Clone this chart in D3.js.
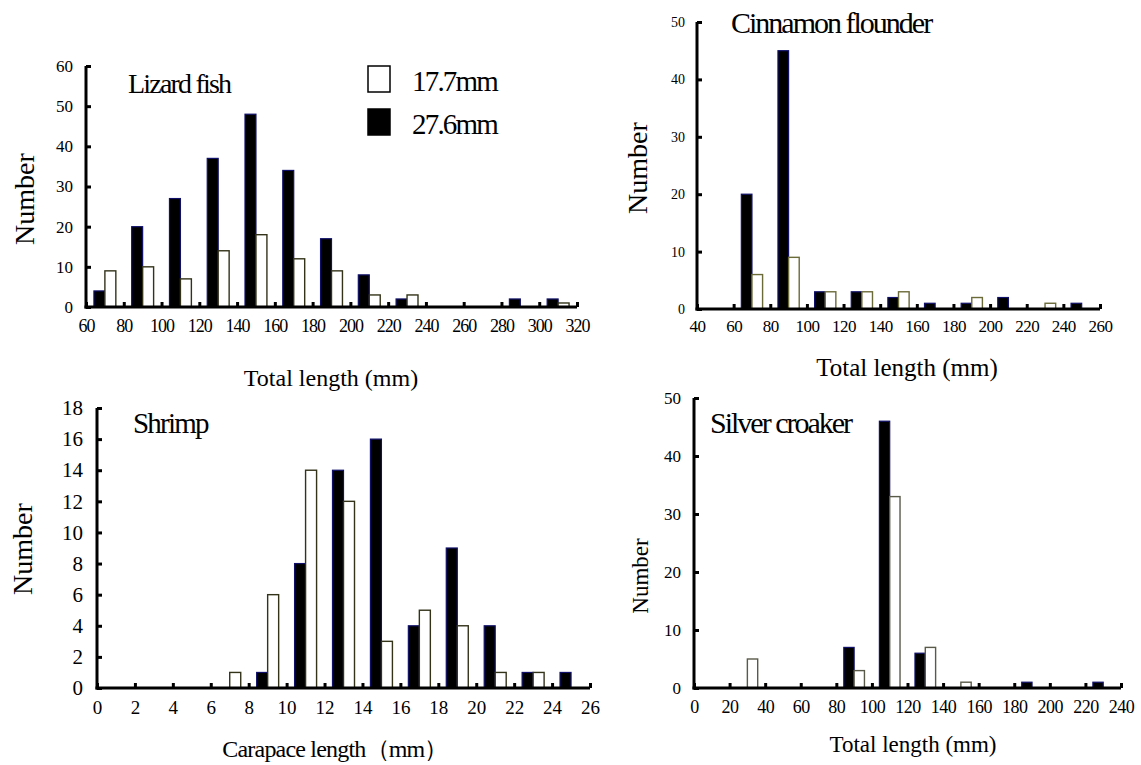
<!DOCTYPE html>
<html>
<head>
<meta charset="utf-8">
<script src="https://cdn.jsdelivr.net/npm/d3@7"></script>
<style>
  body { margin: 0; background: #fff; }
  svg { display: block; }
  text { font-family: "Liberation Serif", "DejaVu Serif", serif; fill: #000; }
  .axis path, .axis line { stroke: #000; stroke-width: 3; }
</style>
</head>
<body>
<div id="chart"></div>
<script>
// series: "17.7mm" = white bars, "27.6mm" = black bars
const seriesNames = ["17.7mm", "27.6mm"];

const lizardBins = [60, 80, 100, 120, 140, 160, 180, 200, 220, 240, 260, 280, 300];
const lizardSmall = [9, 10, 7, 14, 18, 12, 9, 3, 3, 0, 0, 0, 1];
const lizardLarge = [4, 20, 27, 37, 48, 34, 17, 8, 2, 0, 0, 2, 2];

const flounderBins = [40, 60, 80, 100, 120, 140, 160, 180, 200, 220, 240];
const flounderSmall = [0, 6, 9, 3, 3, 3, 0, 2, 0, 1, 0];
const flounderLarge = [0, 20, 45, 3, 3, 2, 1, 1, 2, 0, 1];

const shrimpBins = [0, 2, 4, 6, 8, 10, 12, 14, 16, 18, 20, 22, 24];
const shrimpSmall = [0, 0, 0, 1, 6, 14, 12, 3, 5, 4, 1, 1, 0];
const shrimpLarge = [0, 0, 0, 0, 1, 8, 14, 16, 4, 9, 4, 1, 1];

const croakerBins = [0, 20, 40, 60, 80, 100, 120, 140, 160, 180, 200, 220];
const croakerSmall = [0, 5, 0, 0, 3, 33, 7, 1, 0, 0, 0, 0];
const croakerLarge = [0, 0, 0, 0, 7, 46, 6, 0, 0, 1, 0, 1];

const width = 1141;
const height = 765;
const serif = "Liberation Serif, DejaVu Serif, serif";

const svg = d3.select("#chart").append("svg")
  .attr("width", width)
  .attr("height", height);

function drawPanel(cfg) {
  const binW = cfg.bins[1] - cfg.bins[0];
  const xMax = cfg.bins[cfg.bins.length - 1] + binW;
  const x = d3.scaleLinear().domain([cfg.bins[0], xMax]).range([cfg.left, cfg.right]);
  const y = d3.scaleLinear().domain([0, cfg.yMax]).range([cfg.bottom, cfg.top]);
  const g = svg.append("g");

  const bw = (x(cfg.bins[0] + binW) - x(cfg.bins[0])) * 0.29;
  const rows = cfg.bins.map((b, i) => ({ b, small: cfg.small[i], large: cfg.large[i] }));

  g.selectAll("rect.large").data(rows.filter(d => d.large > 0)).join("rect")
    .attr("class", "large")
    .attr("x", d => x(d.b + binW / 2) - bw)
    .attr("y", d => y(d.large))
    .attr("width", bw)
    .attr("height", d => y(0) - y(d.large))
    .attr("fill", "#000")
    .attr("stroke", "#10106a")
    .attr("stroke-width", 1.2);

  g.selectAll("rect.small").data(rows.filter(d => d.small > 0)).join("rect")
    .attr("class", "small")
    .attr("x", d => x(d.b + binW / 2))
    .attr("y", d => y(d.small))
    .attr("width", bw)
    .attr("height", d => y(0) - y(d.small))
    .attr("fill", "#fff")
    .attr("stroke", cfg.whiteStroke)
    .attr("stroke-width", 1.4);

  const xTicks = d3.range(cfg.bins[0], xMax + binW / 2, binW);
  const xAxis = g.append("g")
    .attr("class", "axis")
    .attr("transform", `translate(0,${cfg.bottom})`)
    .call(d3.axisBottom(x).tickValues(xTicks).tickFormat(d3.format("d"))
      .tickSizeInner(-5).tickSizeOuter(0).tickPadding(cfg.xPad));
  xAxis.attr("font-family", serif).attr("font-size", cfg.xFont);
  xAxis.selectAll("text").attr("letter-spacing", cfg.xSpacing || 0);

  const yTicks = d3.range(0, cfg.yMax + cfg.yStep / 2, cfg.yStep);
  const yAxis = g.append("g")
    .attr("class", "axis")
    .attr("transform", `translate(${cfg.left},0)`)
    .call(d3.axisLeft(y).tickValues(yTicks).tickFormat(d3.format("d"))
      .tickSizeInner(-5).tickSizeOuter(0).tickPadding(cfg.yPad));
  yAxis.attr("font-family", serif).attr("font-size", cfg.yFont);
  // axis lines meet at the corner
  yAxis.select(".domain").attr("d", `M0,${cfg.top}V${cfg.bottom + 1.5}`);
  xAxis.select(".domain").attr("d", `M${cfg.left - 1.5},0H${cfg.right}`);

  g.append("text")
    .attr("x", cfg.titleX)
    .attr("y", cfg.titleY)
    .attr("font-size", cfg.titleFont)
    .attr("letter-spacing", cfg.titleSpacing)
    .text(cfg.title);

  g.append("text")
    .attr("transform", `translate(${cfg.yLabelX},${cfg.yLabelY}) rotate(-90)`)
    .attr("text-anchor", "middle")
    .attr("font-size", cfg.yLabelFont)
    .text("Number");

  g.append("text")
    .attr("x", cfg.xLabelX)
    .attr("y", cfg.xLabelY)
    .attr("text-anchor", "middle")
    .attr("font-size", cfg.xLabelFont)
    .attr("letter-spacing", cfg.xLabelSpacing || 0)
    .text(cfg.xLabel);
}

drawPanel({
  bins: lizardBins, small: lizardSmall, large: lizardLarge,
  left: 86, right: 577, top: 66, bottom: 307, yMax: 60, yStep: 10,
  xFont: 18, xSpacing: -1, yFont: 17, xPad: 12, yPad: 13, whiteStroke: "#33331a",
  title: "Lizard fish", titleX: 128, titleY: 93, titleFont: 28, titleSpacing: -1.8,
  yLabelX: 34, yLabelY: 199, yLabelFont: 28,
  xLabel: "Total length (mm)", xLabelX: 331, xLabelY: 386, xLabelFont: 24
});

drawPanel({
  bins: flounderBins, small: flounderSmall, large: flounderLarge,
  left: 697, right: 1100, top: 22, bottom: 309, yMax: 50, yStep: 10,
  xFont: 17, xSpacing: -0.5, yFont: 14, xPad: 11, yPad: 12, whiteStroke: "#6b6b3a",
  title: "Cinnamon flounder", titleX: 731, titleY: 33, titleFont: 30, titleSpacing: -2,
  yLabelX: 647, yLabelY: 168, yLabelFont: 28,
  xLabel: "Total length (mm)", xLabelX: 907, xLabelY: 376, xLabelFont: 25
});

drawPanel({
  bins: shrimpBins, small: shrimpSmall, large: shrimpLarge,
  left: 97, right: 590, top: 408, bottom: 688, yMax: 18, yStep: 2,
  xFont: 19, yFont: 21, xPad: 13, yPad: 14, whiteStroke: "#33331a",
  title: "Shrimp", titleX: 133, titleY: 433, titleFont: 29, titleSpacing: -1.8,
  yLabelX: 32, yLabelY: 549, yLabelFont: 28,
  xLabel: "Carapace length（mm）", xLabelX: 335, xLabelY: 757, xLabelFont: 24, xLabelSpacing: -0.8
});

drawPanel({
  bins: croakerBins, small: croakerSmall, large: croakerLarge,
  left: 694, right: 1121, top: 398, bottom: 688, yMax: 50, yStep: 10,
  xFont: 18, xSpacing: -0.5, yFont: 17, xPad: 12, yPad: 13, whiteStroke: "#5a5a4a",
  title: "Silver croaker", titleX: 710, titleY: 433, titleFont: 30, titleSpacing: -2,
  yLabelX: 648, yLabelY: 576, yLabelFont: 23,
  xLabel: "Total length (mm)", xLabelX: 913, xLabelY: 752, xLabelFont: 23
});

// legend (lizard fish panel)
const legend = svg.append("g").attr("transform", "translate(368,66)");
seriesNames.forEach((name, i) => {
  legend.append("rect")
    .attr("x", 0)
    .attr("y", i * 43)
    .attr("width", 22)
    .attr("height", 26)
    .attr("fill", i === 0 ? "#fff" : "#000")
    .attr("stroke", "#000")
    .attr("stroke-width", 1.5);
  legend.append("text")
    .attr("x", 44)
    .attr("y", i * 43 + 25)
    .attr("font-size", 29)
    .attr("letter-spacing", -1.8)
    .text(name);
});
</script>
</body>
</html>
